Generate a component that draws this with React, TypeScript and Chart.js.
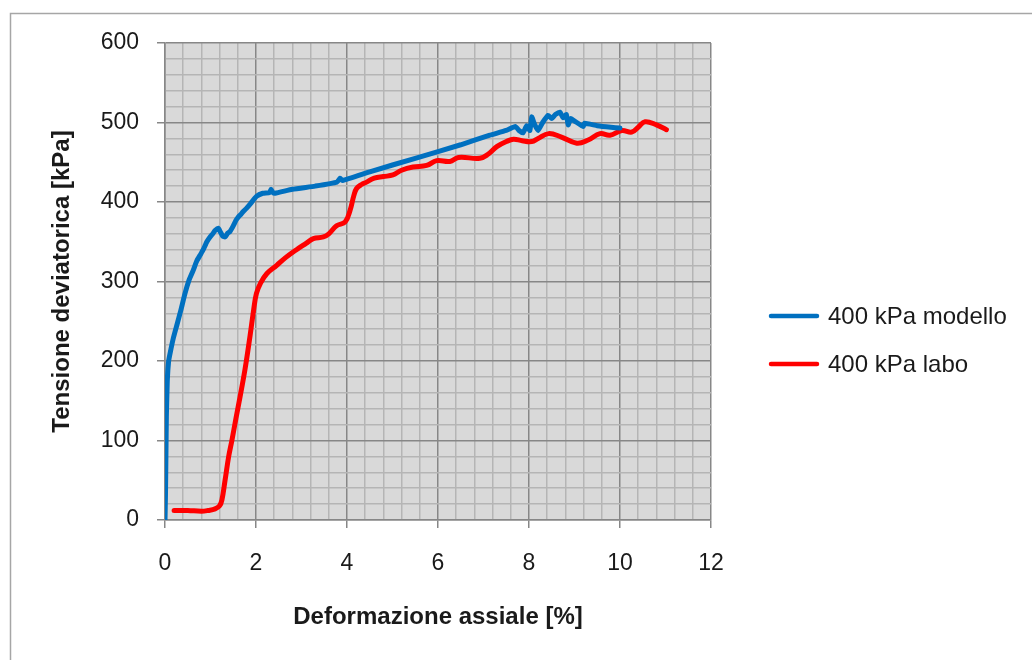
import React, { useEffect, useRef } from 'react';
import { Chart, registerables } from 'chart.js';

Chart.register(...registerables);

// ---- data ----
const modelloX = [0, 0.01, 0.02, 0.03, 0.05, 0.08, 0.12, 0.18, 0.26, 0.34, 0.44, 0.53, 0.62, 0.7, 0.77, 0.84, 0.92, 0.99, 1.05, 1.1, 1.17, 1.22, 1.27, 1.32, 1.38, 1.43, 1.5, 1.56, 1.61, 1.66, 1.72, 1.79, 1.88, 2.01, 2.15, 2.3, 2.33, 2.37, 2.42, 2.8, 3.3, 3.78, 3.85, 3.9, 4.5, 5.5, 6.5, 7.14, 7.5, 7.7, 7.78, 7.87, 7.95, 8.02, 8.06, 8.12, 8.2, 8.3, 8.42, 8.5, 8.58, 8.68, 8.75, 8.82, 8.86, 8.92, 8.97, 9.05, 9.19, 9.22, 9.5, 9.8, 10.0];
const modelloY = [0, 30, 80, 130, 175, 200, 212, 228, 245, 262, 285, 302, 314, 326, 333, 340, 350, 356, 360, 364, 367, 362, 357, 356, 361, 363, 370, 377, 381, 384, 388, 392, 398, 407, 411, 412, 416, 412, 411, 416, 420, 425, 430, 427, 438, 455, 472, 484, 490, 495, 490, 487, 496, 490, 507, 498, 490, 500, 509, 505, 510, 513, 506, 510, 497, 505, 503, 500, 495, 499, 496, 494, 493];

const laboX = [0.2, 0.5, 0.8, 0.95, 1.1, 1.2, 1.25, 1.32, 1.4, 1.47, 1.56, 1.65, 1.76, 1.87, 1.95, 2.01, 2.1, 2.24, 2.45, 2.65, 2.89, 3.1, 3.26, 3.48, 3.6, 3.77, 3.96, 4.07, 4.15, 4.21, 4.32, 4.43, 4.6, 4.8, 5.01, 5.2, 5.45, 5.75, 5.97, 6.26, 6.45, 6.92, 7.1, 7.3, 7.5, 7.66, 7.85, 8.06, 8.2, 8.43, 8.7, 9.05, 9.3, 9.56, 9.78, 10.04, 10.26, 10.4, 10.55, 10.8, 11.02];
const laboY = [12, 12, 11, 12, 14, 18, 25, 50, 80, 100, 128, 155, 190, 232, 265, 285, 298, 310, 320, 330, 340, 348, 354, 356, 360, 370, 375, 390, 408, 417, 422, 425, 430, 432, 434, 440, 444, 446, 452, 451, 456, 455, 460, 470, 476, 479, 477, 476, 480, 486, 482, 474, 478, 486, 484, 490, 488, 494, 501, 497, 491];

const seriesLabels = ['400 kPa modello', '400 kPa labo'];
const seriesColors = ['#0070c0', '#ff0000'];
const xTitle = 'Deformazione assiale [%]';
const yTitle = 'Tensione deviatorica [kPa]';
const xRange = [0, 12];
const yRange = [0, 600];
const xMajorStep = 2;
const xMinorStep = 0.4;
const yMajorStep = 100;
const yMinorStep = 20;

const FONT = "'Liberation Sans', Arial, sans-serif";

const isMajor = (v: number, step: number) => Math.abs(v / step - Math.round(v / step)) < 1e-6;

const toPoints = (xs: number[], ys: number[]) => xs.map((x, i) => ({ x, y: ys[i] }));

const bgPlugin = {
  id: 'bgPlugin',
  beforeDraw(chart: any) {
    const { ctx, chartArea } = chart;
    ctx.save();
    ctx.fillStyle = '#ffffff';
    ctx.fillRect(0, 0, chart.width, chart.height);
    ctx.strokeStyle = '#a6a6a6';
    ctx.lineWidth = 1.5;
    ctx.strokeRect(10.5, 13.5, chart.width + 50, chart.height + 50);
    ctx.fillStyle = '#d9d9d9';
    ctx.fillRect(chartArea.left, chartArea.top, chartArea.right - chartArea.left, chartArea.bottom - chartArea.top);
    ctx.restore();
  },
};

const legendPlugin = {
  id: 'legendPlugin',
  afterDraw(chart: any) {
    const { ctx } = chart;
    ctx.save();
    chart.data.datasets.forEach((ds: any, i: number) => {
      const y = 316 + i * 48;
      ctx.strokeStyle = ds.borderColor;
      ctx.lineWidth = 4.5;
      ctx.lineCap = 'round';
      ctx.beginPath();
      ctx.moveTo(771, y);
      ctx.lineTo(817, y);
      ctx.stroke();
      ctx.fillStyle = '#1a1a1a';
      ctx.font = `24px ${FONT}`;
      ctx.textBaseline = 'middle';
      ctx.textAlign = 'left';
      ctx.fillText(ds.label, 828, y + 1);
    });
    ctx.restore();
  },
};

export default function App() {
  const ref = useRef<HTMLCanvasElement | null>(null);

  useEffect(() => {
    if (!ref.current) return;
    const gridFor = (step: number) => ({
      color: (c: any) => (isMajor(c.tick?.value ?? 0, step) ? '#878787' : '#b5b5b5'),
      lineWidth: 1.5,
      tickColor: (c: any) => (isMajor(c.tick?.value ?? 0, step) ? '#878787' : 'rgba(0,0,0,0)'),
      tickLength: 8,
      drawTicks: true,
    });
    const chart = new Chart(ref.current, {
      type: 'scatter',
      data: {
        datasets: [
          {
            label: seriesLabels[0],
            data: toPoints(modelloX, modelloY),
            showLine: true,
            borderColor: seriesColors[0],
            backgroundColor: seriesColors[0],
            borderWidth: 5,
            pointRadius: 0,
            tension: 0.15,
            borderCapStyle: 'round',
            borderJoinStyle: 'round',
          },
          {
            label: seriesLabels[1],
            data: toPoints(laboX, laboY),
            showLine: true,
            borderColor: seriesColors[1],
            backgroundColor: seriesColors[1],
            borderWidth: 5,
            pointRadius: 0,
            tension: 0.4,
            borderCapStyle: 'round',
            borderJoinStyle: 'round',
          },
        ],
      },
      options: {
        animation: false,
        responsive: false,
        devicePixelRatio: 1,
        layout: { padding: { left: 0, top: 43, right: 321, bottom: 0 } },
        plugins: {
          legend: { display: false },
          tooltip: { enabled: false },
        },
        scales: {
          x: {
            type: 'linear',
            min: xRange[0],
            max: xRange[1],
            afterFit: (s: any) => { s.height = 140; },
            border: { display: true, color: '#878787', width: 1.5 },
            grid: gridFor(xMajorStep),
            ticks: {
              stepSize: xMinorStep,
              autoSkip: false,
              maxRotation: 0,
              maxTicksLimit: 200,
              padding: 22,
              color: '#1a1a1a',
              font: { family: FONT, size: 23 },
              callback: (v: any) => (isMajor(Number(v), xMajorStep) ? String(Math.round(Number(v))) : ''),
            },
            title: {
              display: true,
              text: xTitle,
              color: '#1a1a1a',
              font: { family: FONT, size: 24, weight: 'bold' },
              padding: { top: 0, bottom: 28 },
            },
          },
          y: {
            type: 'linear',
            min: yRange[0],
            max: yRange[1],
            afterFit: (s: any) => { s.width = 165; },
            border: { display: true, color: '#878787', width: 1.5 },
            grid: gridFor(yMajorStep),
            ticks: {
              stepSize: yMinorStep,
              autoSkip: false,
              maxTicksLimit: 200,
              padding: 18,
              color: '#1a1a1a',
              font: { family: FONT, size: 23 },
              callback: (v: any) => (isMajor(Number(v), yMajorStep) ? String(Math.round(Number(v))) : ''),
            },
            title: {
              display: true,
              text: yTitle,
              color: '#1a1a1a',
              font: { family: FONT, size: 24, weight: 'bold' },
              padding: { top: 48, bottom: 0 },
            },
          },
        },
      },
      plugins: [bgPlugin, legendPlugin],
    } as any);
    return () => chart.destroy();
  }, []);

  return (
    <div style={{ position: 'absolute', left: 0, top: 0, width: 1032, height: 660 }}>
      <canvas ref={ref} width={1032} height={660} style={{ width: 1032, height: 660, display: 'block' }} />
    </div>
  );
}
